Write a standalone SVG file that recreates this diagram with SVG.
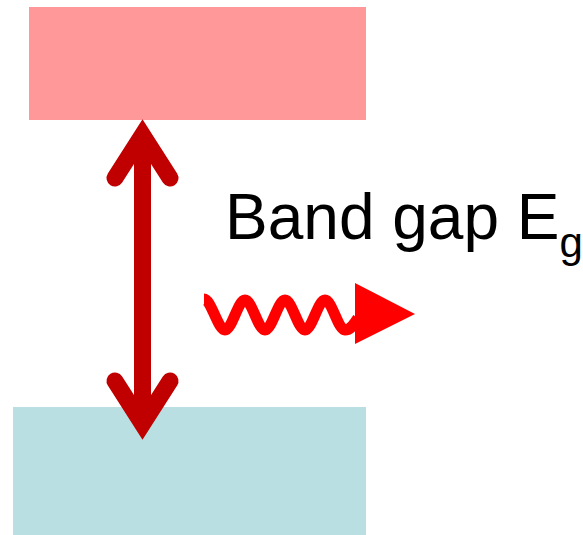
<svg xmlns="http://www.w3.org/2000/svg" width="583" height="535" viewBox="0 0 583 535">
<style>
.band{stroke:none}
.dbl{fill:none;stroke:#C00000;stroke-width:17}
.wave{fill:none;stroke:#FF0000;stroke-width:11}
.lbl{font-family:"Liberation Sans",Arial,sans-serif;fill:#000}
</style>
<rect width="583" height="535" fill="#fff"/>
<g id="conduction-band"><rect class="band" x="29" y="7" width="337" height="113" fill="#FF9999"/></g>
<g id="valence-band"><rect class="band" x="13" y="407" width="353" height="128" fill="#B9DFE2"/></g>
<g id="connectors">
<line class="dbl" x1="142.5" y1="135" x2="142.5" y2="424"/>
<polyline class="dbl" points="115,178 142.5,135 170,178" stroke-linecap="round" stroke-linejoin="miter" stroke-miterlimit="10"/>
<polyline class="dbl" points="115,381 142.5,424 170,381" stroke-linecap="round" stroke-linejoin="miter" stroke-miterlimit="10"/>
<path class="wave" d="M204,299 C211,299 218,330 225,330 C232,330 238,300 245,300 C252,300 258,330 265,330 C272,330 278,300 285,300 C292,300 298,330 305,330 C312,330 318,300 325,300 C332,300 338,330 345,330 C350,330 353,326 358,318"/>
<polygon points="355,283 415,314 355,344" fill="#FF0000"/>
</g>
<g id="label">
<text class="lbl" x="225" y="239" font-size="64">Band gap E<tspan font-size="42" dy="18">g</tspan></text>
</g>
</svg>
